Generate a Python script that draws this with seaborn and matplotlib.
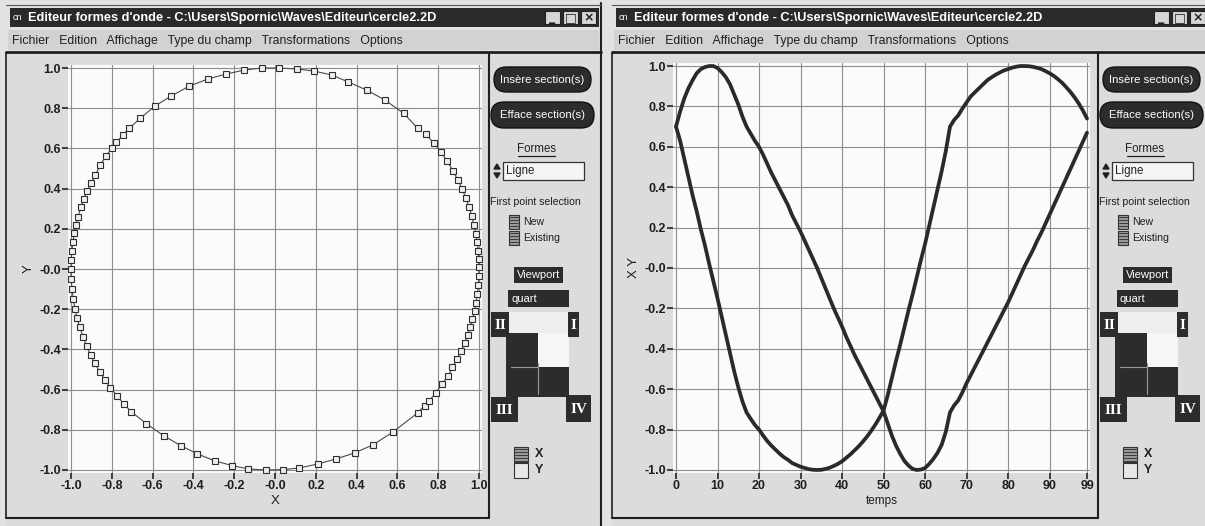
import numpy as np
import pandas as pd
import matplotlib
matplotlib.use("Agg")
import matplotlib.pyplot as plt
from matplotlib.patches import Rectangle, FancyBboxPatch, Polygon
import seaborn as sns

# --- data (same 100 samples in both windows) ---
temps = list(range(100))

valeurs_x = [0.70, 0.63, 0.54, 0.45, 0.36, 0.28, 0.19, 0.11, 0.02, -0.065,
             -0.15, -0.24, -0.33, -0.42, -0.51, -0.59, -0.66, -0.715, -0.747, -0.777,
             -0.80, -0.83, -0.857, -0.88, -0.90, -0.92, -0.937, -0.95, -0.966, -0.975,
             -0.984, -0.99, -0.996, -0.999, -1.0, -0.999, -0.995, -0.989, -0.98, -0.97,
             -0.957, -0.94, -0.923, -0.903, -0.883, -0.86, -0.835, -0.807, -0.776, -0.742,
             -0.705, -0.63, -0.545, -0.46, -0.38, -0.295, -0.21, -0.13, -0.045, 0.04,
             0.12, 0.21, 0.30, 0.39, 0.48, 0.58, 0.70, 0.733, 0.756, 0.79,
             0.82, 0.85, 0.87, 0.89, 0.91, 0.93, 0.944, 0.957, 0.968, 0.978,
             0.985, 0.992, 0.997, 1.0, 1.0, 0.999, 0.996, 0.991, 0.985, 0.975,
             0.964, 0.951, 0.935, 0.917, 0.895, 0.872, 0.845, 0.815, 0.78, 0.74]

valeurs_y = [0.70, 0.775, 0.84, 0.89, 0.93, 0.965, 0.985, 0.995, 1.0, 1.0,
             0.99, 0.97, 0.945, 0.91, 0.86, 0.81, 0.75, 0.70, 0.665, 0.63,
             0.60, 0.56, 0.515, 0.47, 0.43, 0.39, 0.35, 0.31, 0.26, 0.22,
             0.18, 0.135, 0.09, 0.045, 0.0, -0.05, -0.10, -0.15, -0.20, -0.245,
             -0.29, -0.34, -0.385, -0.43, -0.47, -0.51, -0.55, -0.59, -0.63, -0.67,
             -0.71, -0.77, -0.83, -0.88, -0.92, -0.955, -0.978, -0.995, -1.0, -0.998,
             -0.99, -0.97, -0.945, -0.915, -0.875, -0.81, -0.715, -0.68, -0.655, -0.615,
             -0.57, -0.53, -0.49, -0.45, -0.41, -0.37, -0.33, -0.29, -0.25, -0.21,
             -0.17, -0.125, -0.08, -0.035, 0.01, 0.05, 0.09, 0.135, 0.175, 0.22,
             0.265, 0.31, 0.355, 0.40, 0.445, 0.49, 0.535, 0.58, 0.625, 0.67]

coord_ticks = [-1.0, -0.8, -0.6, -0.4, -0.2, 0.0, 0.2, 0.4, 0.6, 0.8, 1.0]
coord_labels = ["-1.0", "-0.8", "-0.6", "-0.4", "-0.2", "-0.0", "0.2", "0.4", "0.6", "0.8", "1.0"]
temps_ticks = [0, 10, 20, 30, 40, 50, 60, 70, 80, 90, 99]

titre = "Editeur formes d'onde - C:\\Users\\Spornic\\Waves\\Editeur\\cercle2.2D"
menu = "Fichier   Edition   Affichage   Type du champ   Transformations   Options"

sns.set_theme(style="white")
plt.rcParams["font.family"] = ["Liberation Sans", "DejaVu Sans"]

W, H = 1205, 526
INK = "#1f1f1f"
DARK = "#2c2c2c"
PANEL = "#dcdcdc"

fig = plt.figure(figsize=(W / 100, H / 100), dpi=100)
fig.patch.set_facecolor("#e2e2e2")
bg = fig.add_axes([0, 0, 1, 1])
bg.set_xlim(0, W)
bg.set_ylim(H, 0)
bg.axis("off")


def rect(x, y, w, h, fc, ec="none", lw=0.0):
    bg.add_patch(Rectangle((x, y), w, h, facecolor=fc, edgecolor=ec, linewidth=lw))


def pill(x, y, w, h, label):
    bg.add_patch(FancyBboxPatch((x, y), w, h, boxstyle=f"round,pad=0,rounding_size={h / 2}",
                                facecolor=DARK, edgecolor="#111111", linewidth=1))
    bg.text(x + w / 2, y + h / 2 + 0.5, label, ha="center", va="center",
            fontsize=8.2, color="white")


def icon(x, y, w, h):
    rect(x, y, w, h, "#9a9a9a", "#333333", 0.8)
    for yy in np.arange(y + 2, y + h, 3):
        bg.plot([x + 1, x + w - 1], [yy, yy], color="#3a3a3a", lw=0.7)


def roman(x, y, w, h, label):
    rect(x, y, w, h, DARK)
    bg.text(x + w / 2, y + h / 2 + 1, label, ha="center", va="center", fontsize=11,
            color="white", fontweight="bold", family="Liberation Serif")


def window(ox, right, sx):
    # frame of the plot area and the side panel
    rect(ox, 53, right - ox, 473, PANEL)
    bg.plot([ox, ox], [53, 518], color=INK, lw=1.2)
    bg.plot([sx, sx], [53, 518], color=INK, lw=1.5)
    bg.plot([ox, sx], [518, 518], color=INK, lw=1.5)
    bg.plot([right, right], [3, 526], color=INK, lw=1.5)
    bg.plot([ox, right], [5, 5], color="#555555", lw=0.8)
    # title bar
    rect(ox + 4, 8, right - ox - 6, 19, "#2a2a2a")
    bg.text(ox + 7, 18, "cn", fontsize=6.5, color="white", va="center")
    bg.text(ox + 22, 17.5, titre, fontsize=9.2, color="white", va="center", fontweight="bold")
    for i, g in enumerate(["_", "□", "×"]):
        bx = right - 56 + i * 18
        rect(bx, 11, 15, 13, "#d6d6d6", "#222222", 0.8)
        bg.text(bx + 7.5, 17.5, g, ha="center", va="center", fontsize=9,
                color=INK, fontweight="bold", family="DejaVu Sans")
    # menu
    rect(ox + 2, 30, right - ox - 4, 20, "#d2d2d2")
    bg.text(ox + 6, 41, menu, fontsize=8.8, color=INK, va="center")
    bg.plot([ox, right], [52, 52], color=INK, lw=2)

    # side panel
    pill(sx + 5, 67, 97, 25, "Insère section(s)")
    pill(sx + 2, 102, 103, 26, "Efface section(s)")
    bg.text(sx + 47, 149, "Formes", ha="center", va="center", fontsize=8.3, color=INK)
    bg.plot([sx + 29, sx + 66], [155.5, 155.5], color=INK, lw=0.9)
    rect(sx + 14, 162, 81, 18, "#f5f5f5", "#333333", 0.9)
    bg.add_patch(Polygon([[sx + 5, 169], [sx + 11, 169], [sx + 8, 164]], color=INK))
    bg.add_patch(Polygon([[sx + 5, 173], [sx + 11, 173], [sx + 8, 178]], color=INK))
    bg.text(sx + 17, 171, "Ligne", va="center", fontsize=8.3, color=INK)
    bg.text(sx + 1, 202, "First point selection", va="center", fontsize=7.6, color=INK)
    icon(sx + 20, 215, 10, 14)
    icon(sx + 20, 231, 10, 14)
    bg.text(sx + 34, 222, "New", va="center", fontsize=7.6, color=INK)
    bg.text(sx + 34, 238, "Existing", va="center", fontsize=7.6, color=INK)
    rect(sx + 25, 267, 49, 16, DARK)
    bg.text(sx + 49.5, 275.5, "Viewport", ha="center", va="center", fontsize=8, color="white")
    rect(sx + 19, 290, 61, 17, DARK)
    bg.text(sx + 22, 298.5, "quart", va="center", fontsize=8, color="white")
    rect(sx + 20, 312, 59, 21, "#eeeeee")
    rect(sx + 17, 333, 32, 64, DARK)
    rect(sx + 49, 333, 31, 34, "#f6f6f6")
    rect(sx + 49, 367, 31, 30, DARK)
    bg.plot([sx + 49, sx + 49], [363, 394], color="#9a9a9a", lw=0.8)
    bg.plot([sx + 22, sx + 49], [367, 367], color="#9a9a9a", lw=0.8)
    roman(sx + 2, 312, 18, 25, "II")
    roman(sx + 79, 312, 11, 25, "I")
    roman(sx + 2, 397, 27, 25, "III")
    roman(sx + 77, 395, 25, 27, "IV")
    icon(sx + 25, 447, 14, 15)
    rect(sx + 25, 463, 14, 15, "#e8e8e8", "#333333", 0.8)
    bg.text(sx + 46, 454, "X", va="center", fontsize=9, color=INK, fontweight="bold")
    bg.text(sx + 46, 470, "Y", va="center", fontsize=9, color=INK, fontweight="bold")


window(6, 601, 489)
window(612, 1210, 1098)


def px_axes(x0, y0, x1, y1):
    return fig.add_axes([x0 / W, 1 - y1 / H, (x1 - x0) / W, (y1 - y0) / H])


def style(ax):
    ax.set_facecolor("#fbfbfb")
    for s in ax.spines.values():
        s.set_visible(False)
    ax.grid(True, color="#8d8d8d", lw=0.8)
    ax.tick_params(axis="both", length=4, width=1.2, color="#222222", pad=1,
                   labelsize=9, labelcolor=INK, bottom=True, left=True)
    for lab in ax.get_xticklabels() + ax.get_yticklabels():
        lab.set_fontweight("bold")


df_cercle = pd.DataFrame({"X": valeurs_x, "Y": valeurs_y})
df_temps = pd.DataFrame({
    "temps": temps + temps,
    "valeur": valeurs_x + valeurs_y,
    "serie": ["X"] * len(temps) + ["Y"] * len(temps),
})

# left window: Y versus X
ax1 = px_axes(68, 65, 482, 473)
sns.lineplot(data=df_cercle, x="X", y="Y", sort=False, estimator=None, ax=ax1,
             color="#4a4a4a", lw=0.8, marker="s", markersize=3.8,
             markerfacecolor="#eeeeee", markeredgecolor="#2e2e2e", markeredgewidth=0.8)
ax1.set_xlim(-1.0147, 1.0147)
ax1.set_ylim(-1.015, 1.015)
ax1.set_xticks(coord_ticks, coord_labels)
ax1.set_yticks(coord_ticks, coord_labels)
ax1.set_xlabel("X", fontsize=9.5, color=INK, labelpad=2)
ax1.set_ylabel("Y", fontsize=9.5, color=INK, labelpad=3)
style(ax1)

# right window: X and Y versus temps
ax2 = px_axes(673, 63, 1090, 473)
sns.lineplot(data=df_temps, x="temps", y="valeur", hue="serie", estimator=None,
             palette=["#2a2a2a", "#2a2a2a"], lw=2.7, legend=False, ax=ax2)
ax2.set_xlim(-0.72, 99.72)
ax2.set_ylim(-1.015, 1.015)
ax2.set_xticks(temps_ticks, [str(t) for t in temps_ticks])
ax2.set_yticks(coord_ticks, coord_labels)
ax2.set_xlabel("temps", fontsize=8.5, color=INK, labelpad=2)
ax2.set_ylabel("X Y", fontsize=9.5, color=INK, labelpad=3)
style(ax2)

fig.savefig("out.png", dpi=100, facecolor=fig.get_facecolor())
